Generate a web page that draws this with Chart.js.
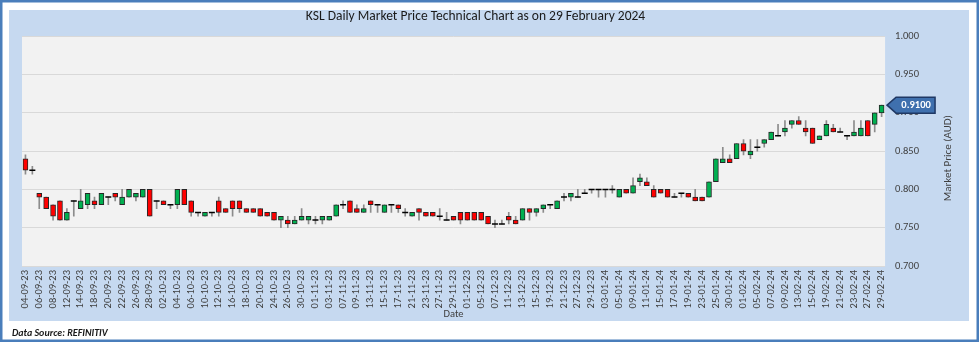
<!DOCTYPE html>
<html>
<head>
<meta charset="utf-8">
<script src="https://cdn.jsdelivr.net/npm/chart.js@4.4.1/dist/chart.umd.min.js"></script>
<style>
  html, body { margin: 0; padding: 0; background: #fff; }
  #wrap { width: 979px; height: 342px; }
</style>
</head>
<body>
<div id="wrap"><canvas id="kslChart" width="979" height="342"></canvas></div>
<script>
// --- KSL daily prices, 04-09-23 to 29-02-24 ---
const dates = [
  "04-09-23","05-09-23","06-09-23","07-09-23","08-09-23","11-09-23","12-09-23","13-09-23","14-09-23","15-09-23",
  "18-09-23","19-09-23","20-09-23","21-09-23","22-09-23","25-09-23","26-09-23","27-09-23","28-09-23","29-09-23",
  "02-10-23","03-10-23","04-10-23","05-10-23","06-10-23","09-10-23","10-10-23","11-10-23","12-10-23","13-10-23",
  "16-10-23","17-10-23","18-10-23","19-10-23","20-10-23","23-10-23","24-10-23","25-10-23","26-10-23","27-10-23",
  "30-10-23","31-10-23","01-11-23","02-11-23","03-11-23","06-11-23","07-11-23","08-11-23","09-11-23","10-11-23",
  "13-11-23","14-11-23","15-11-23","16-11-23","17-11-23","20-11-23","21-11-23","22-11-23","23-11-23","24-11-23",
  "27-11-23","28-11-23","29-11-23","30-11-23","01-12-23","04-12-23","05-12-23","06-12-23","07-12-23","08-12-23",
  "11-12-23","12-12-23","13-12-23","14-12-23","15-12-23","18-12-23","19-12-23","20-12-23","21-12-23","22-12-23",
  "27-12-23","28-12-23","29-12-23","02-01-24","03-01-24","04-01-24","05-01-24","08-01-24","09-01-24","10-01-24",
  "11-01-24","12-01-24","15-01-24","16-01-24","17-01-24","18-01-24","19-01-24","22-01-24","23-01-24","24-01-24",
  "25-01-24","29-01-24","30-01-24","31-01-24","01-02-24","02-02-24","05-02-24","06-02-24","07-02-24","08-02-24",
  "09-02-24","12-02-24","13-02-24","14-02-24","15-02-24","16-02-24","19-02-24","20-02-24","21-02-24","22-02-24",
  "23-02-24","26-02-24","27-02-24","28-02-24","29-02-24"
];

const openP = [
  0.840,0.825,0.795,0.790,0.780,0.785,0.760,0.785,0.775,0.780,
  0.785,0.780,0.790,0.795,0.780,0.790,0.790,0.790,0.800,0.785,
  0.785,0.780,0.780,0.800,0.785,0.770,0.765,0.770,0.785,0.775,
  0.785,0.785,0.775,0.775,0.775,0.770,0.770,0.760,0.760,0.755,
  0.760,0.760,0.760,0.760,0.760,0.765,0.780,0.785,0.775,0.770,
  0.785,0.780,0.770,0.780,0.780,0.770,0.765,0.775,0.770,0.770,
  0.765,0.760,0.765,0.770,0.770,0.770,0.770,0.765,0.755,0.755,
  0.765,0.760,0.760,0.775,0.770,0.775,0.780,0.775,0.790,0.790,
  0.790,0.795,0.800,0.800,0.800,0.800,0.790,0.800,0.795,0.810,
  0.810,0.800,0.800,0.800,0.790,0.795,0.795,0.790,0.790,0.790,
  0.810,0.835,0.840,0.840,0.860,0.845,0.855,0.860,0.865,0.870,
  0.875,0.885,0.890,0.880,0.880,0.865,0.870,0.880,0.875,0.870,
  0.870,0.870,0.890,0.885,0.900
];
const highP = [
  0.845,0.830,0.795,0.790,0.780,0.785,0.775,0.785,0.800,0.795,
  0.790,0.795,0.790,0.795,0.800,0.800,0.795,0.800,0.800,0.785,
  0.785,0.780,0.800,0.800,0.785,0.770,0.770,0.770,0.790,0.775,
  0.785,0.785,0.775,0.775,0.775,0.770,0.770,0.765,0.765,0.765,
  0.775,0.765,0.765,0.765,0.765,0.780,0.785,0.785,0.780,0.780,
  0.785,0.780,0.780,0.780,0.780,0.775,0.770,0.775,0.770,0.770,
  0.775,0.770,0.765,0.770,0.770,0.770,0.770,0.765,0.760,0.760,
  0.770,0.765,0.775,0.775,0.775,0.780,0.780,0.785,0.795,0.795,
  0.800,0.800,0.800,0.800,0.800,0.805,0.800,0.800,0.815,0.820,
  0.815,0.805,0.800,0.800,0.795,0.795,0.795,0.800,0.790,0.810,
  0.840,0.855,0.845,0.860,0.865,0.865,0.865,0.865,0.875,0.885,
  0.890,0.890,0.895,0.890,0.880,0.870,0.890,0.885,0.880,0.870,
  0.890,0.890,0.890,0.900,0.910
];
const lowP = [
  0.820,0.820,0.775,0.775,0.760,0.760,0.760,0.765,0.775,0.775,
  0.775,0.780,0.780,0.785,0.780,0.790,0.785,0.790,0.765,0.775,
  0.780,0.775,0.775,0.780,0.765,0.765,0.765,0.765,0.765,0.770,
  0.765,0.770,0.770,0.770,0.765,0.765,0.760,0.750,0.750,0.755,
  0.760,0.755,0.755,0.755,0.760,0.765,0.775,0.770,0.770,0.770,
  0.770,0.770,0.770,0.770,0.770,0.765,0.765,0.760,0.765,0.765,
  0.760,0.760,0.760,0.755,0.760,0.760,0.760,0.755,0.750,0.755,
  0.755,0.755,0.760,0.760,0.765,0.770,0.775,0.775,0.785,0.785,
  0.790,0.795,0.795,0.790,0.790,0.795,0.790,0.795,0.795,0.805,
  0.805,0.790,0.795,0.790,0.790,0.790,0.790,0.785,0.785,0.790,
  0.810,0.835,0.835,0.840,0.845,0.840,0.850,0.855,0.865,0.870,
  0.870,0.880,0.885,0.870,0.860,0.865,0.870,0.875,0.875,0.865,
  0.870,0.870,0.870,0.875,0.895
];
const closeP = [
  0.825,0.825,0.790,0.775,0.765,0.760,0.770,0.785,0.785,0.795,
  0.780,0.795,0.790,0.790,0.790,0.800,0.795,0.800,0.765,0.785,
  0.780,0.780,0.800,0.780,0.770,0.770,0.770,0.770,0.770,0.770,
  0.775,0.775,0.770,0.770,0.765,0.765,0.760,0.765,0.755,0.760,
  0.765,0.765,0.760,0.765,0.765,0.780,0.780,0.770,0.770,0.775,
  0.780,0.780,0.780,0.780,0.775,0.770,0.770,0.770,0.765,0.765,
  0.765,0.760,0.760,0.760,0.760,0.760,0.760,0.755,0.755,0.755,
  0.760,0.755,0.775,0.770,0.775,0.780,0.780,0.785,0.790,0.795,
  0.790,0.795,0.800,0.800,0.800,0.800,0.800,0.795,0.805,0.815,
  0.805,0.790,0.795,0.790,0.790,0.795,0.790,0.785,0.785,0.810,
  0.840,0.840,0.835,0.860,0.850,0.850,0.855,0.865,0.875,0.870,
  0.880,0.890,0.885,0.875,0.860,0.870,0.885,0.875,0.875,0.870,
  0.875,0.880,0.870,0.900,0.910
];

const yTicks = [0.700, 0.750, 0.800, 0.850, 0.900, 0.950, 1.000];

const chartTitle = "KSL Daily Market Price Technical Chart as on 29 February 2024";
const FONT = "Carlito, Lato, sans-serif";

// candles = high-low wick bars + open/close body bars, dojis drawn as dashes
const wicks = dates.map((d, i) => [lowP[i], highP[i]]);
const bodies = dates.map((d, i) => openP[i] === closeP[i] ? null : [openP[i], closeP[i]]);
const dojis = dates.map((d, i) => openP[i] === closeP[i] ? closeP[i] : null);
const bodyColors = dates.map((d, i) => closeP[i] > openP[i] ? "#00B050" : "#FF0000");

const framePlugin = {
  id: "frame",
  beforeDraw(chart) {
    const { ctx, chartArea: a } = chart;
    ctx.save();
    ctx.fillStyle = "#ffffff";
    ctx.fillRect(0, 0, chart.width, chart.height);
    ctx.fillStyle = "#C6D9F0";
    ctx.fillRect(9, 10, 960, 311);
    ctx.fillStyle = "#F2F2F2";
    ctx.fillRect(a.left, a.top, a.right - a.left, a.bottom - a.top);
    ctx.strokeStyle = "#4A7EBB";
    ctx.lineWidth = 2.5;
    ctx.strokeRect(1.25, 1.25, chart.width - 2.5, chart.height - 2.5);
    ctx.restore();
  },
  afterDraw(chart) {
    const { ctx, chartArea: a } = chart;
    const y = chart.scales.y;
    ctx.save();
    // axis title on the right, reading bottom to top
    ctx.translate(948, (a.top + a.bottom) / 2 + 7);
    ctx.rotate(-Math.PI / 2);
    ctx.fillStyle = "#404040";
    ctx.font = "11px " + FONT;
    ctx.textAlign = "center";
    ctx.textBaseline = "middle";
    ctx.fillText("Market Price (AUD)", 0, 0);
    ctx.restore();

    // source note
    ctx.save();
    ctx.fillStyle = "#1a1a1a";
    ctx.font = "italic bold 10px " + FONT;
    ctx.textBaseline = "alphabetic";
    ctx.fillText("Data Source: REFINITIV", 12, 336);
    ctx.restore();

    // last price callout
    const last = closeP[closeP.length - 1];
    const py = y.getPixelForValue(last);
    const x0 = a.right + 2;
    ctx.save();
    ctx.beginPath();
    ctx.moveTo(x0, py);
    ctx.lineTo(x0 + 9, py - 8);
    ctx.lineTo(x0 + 48, py - 8);
    ctx.lineTo(x0 + 48, py + 8);
    ctx.lineTo(x0 + 9, py + 8);
    ctx.closePath();
    ctx.fillStyle = "#3F70AE";
    ctx.fill();
    ctx.strokeStyle = "#1F3864";
    ctx.lineWidth = 1.5;
    ctx.stroke();
    ctx.fillStyle = "#ffffff";
    ctx.font = "bold 10.5px " + FONT;
    ctx.textAlign = "center";
    ctx.textBaseline = "middle";
    ctx.fillText(last.toFixed(4), x0 + 29, py + 0.5);
    ctx.restore();
  }
};

new Chart(document.getElementById("kslChart"), {
  data: {
    labels: dates,
    datasets: [
      {
        type: "bar",
        label: "High-Low",
        data: wicks,
        backgroundColor: "#8C8C8C",
        barThickness: 1,
        grouped: false,
        order: 3
      },
      {
        type: "bar",
        label: "Open-Close",
        data: bodies,
        backgroundColor: bodyColors,
        borderColor: "#262626",
        borderWidth: 1,
        borderSkipped: false,
        barThickness: 5,
        grouped: false,
        order: 2
      },
      {
        type: "line",
        label: "Doji",
        data: dojis,
        showLine: false,
        pointStyle: "line",
        pointRadius: 3,
        pointBorderWidth: 1.5,
        pointBorderColor: "#000000",
        order: 1
      }
    ]
  },
  options: {
    responsive: false,
    animation: false,
    layout: { padding: { left: 22, right: 50, top: 0, bottom: 21 } },
    plugins: {
      legend: { display: false },
      tooltip: { enabled: false },
      title: {
        display: true,
        text: chartTitle,
        color: "#1a1a1a",
        font: { family: FONT, size: 13.5, weight: "normal" },
        padding: { top: 9, bottom: 11 }
      }
    },
    scales: {
      x: {
        type: "category",
        offset: true,
        grid: { display: false, drawTicks: false },
        border: { display: false },
        ticks: {
          autoSkip: false,
          maxRotation: 90,
          minRotation: 90,
          padding: 4,
          color: "#404040",
          font: { family: FONT, size: 10.5 },
          callback: (v, i) => (i % 2 === 0 ? dates[i] : "")
        },
        title: {
          display: true,
          text: "Date",
          color: "#404040",
          font: { family: FONT, size: 10.5 },
          padding: { top: -4, bottom: 0 }
        }
      },
      y: {
        position: "right",
        min: yTicks[0],
        max: yTicks[yTicks.length - 1],
        afterBuildTicks: (s) => { s.ticks = yTicks.map(v => ({ value: v })); },
        grid: { color: "#D9D9D9", lineWidth: 1, drawTicks: false },
        border: { display: false },
        ticks: {
          padding: 10,
          color: "#404040",
          font: { family: FONT, size: 10.5 },
          callback: (v) => Number(v).toFixed(3)
        }
      }
    }
  },
  plugins: [framePlugin]
});
</script>
</body>
</html>
